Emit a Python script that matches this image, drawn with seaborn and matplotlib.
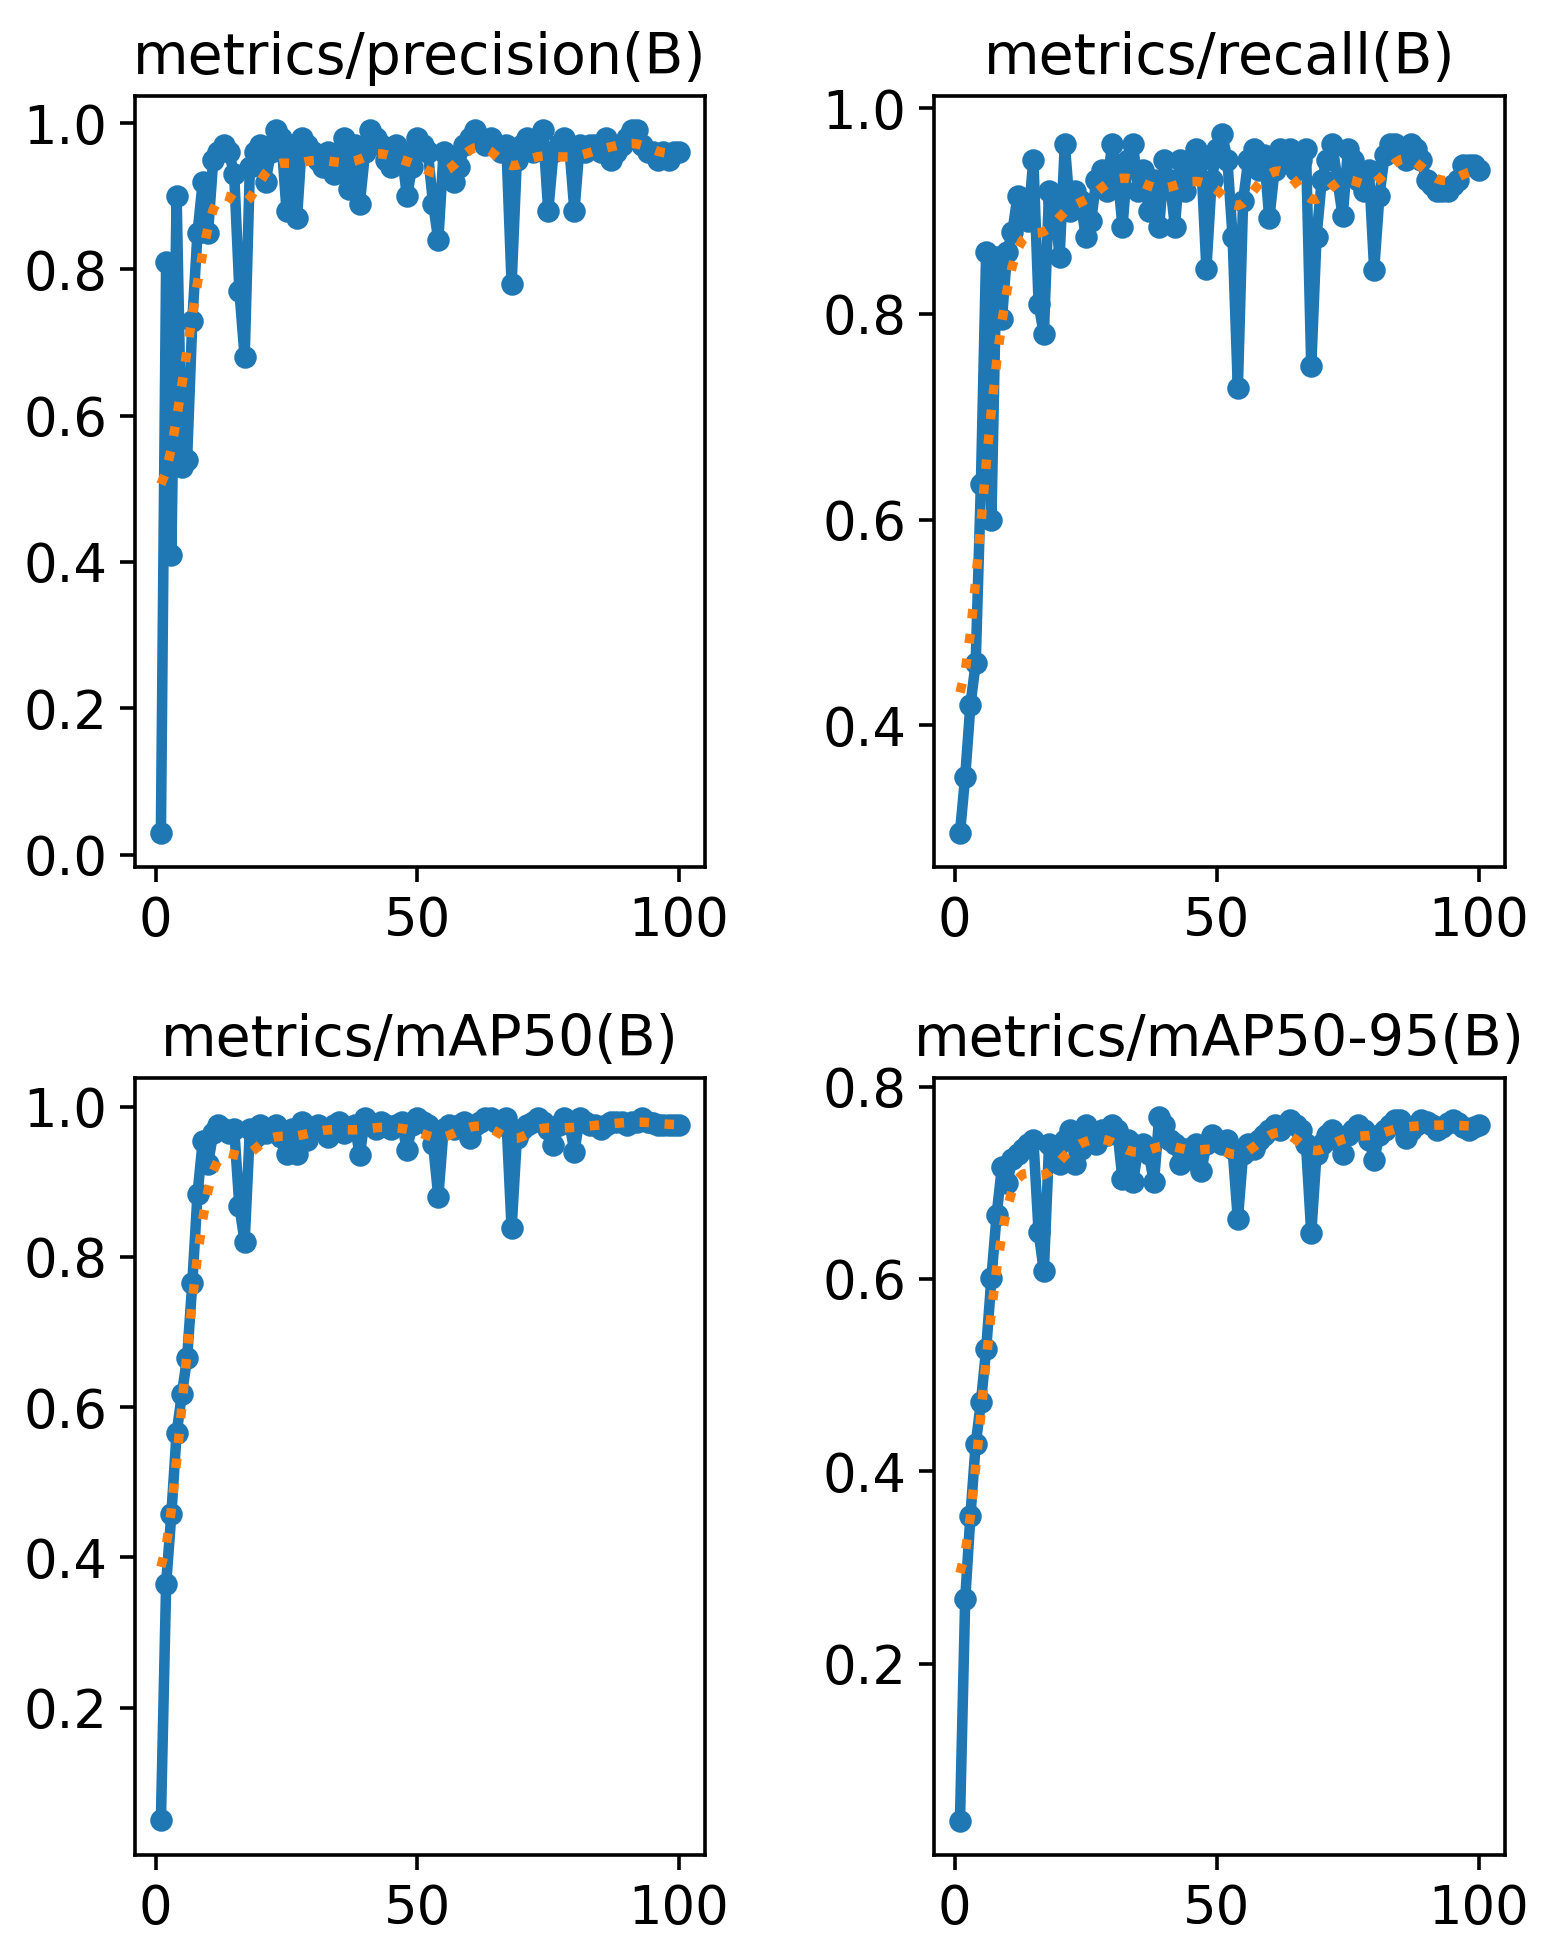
import numpy as np
import pandas as pd
import matplotlib
matplotlib.use("Agg")
import matplotlib.pyplot as plt
import seaborn as sns
from matplotlib.ticker import MultipleLocator

# ---------------- data ----------------
epochs = list(range(1, 101))

precision = [
    0.03, 0.81, 0.41, 0.90, 0.53, 0.54, 0.73, 0.85, 0.92, 0.85,
    0.95, 0.96, 0.97, 0.96, 0.93, 0.77, 0.68, 0.94, 0.96, 0.97,
    0.92, 0.96, 0.99, 0.98, 0.88, 0.97, 0.87, 0.98, 0.97, 0.96,
    0.95, 0.94, 0.96, 0.93, 0.94, 0.98, 0.91, 0.97, 0.89, 0.96,
    0.99, 0.98, 0.97, 0.95, 0.94, 0.97, 0.96, 0.90, 0.94, 0.98,
    0.97, 0.96, 0.89, 0.84, 0.96, 0.95, 0.92, 0.94, 0.97, 0.98,
    0.99, 0.98, 0.97, 0.98, 0.97, 0.96, 0.97, 0.78, 0.95, 0.97,
    0.98, 0.96, 0.97, 0.99, 0.88, 0.96, 0.97, 0.98, 0.97, 0.88,
    0.97, 0.96, 0.97, 0.97, 0.96, 0.98, 0.95, 0.96, 0.97, 0.98,
    0.99, 0.99, 0.97, 0.96, 0.96, 0.95, 0.96, 0.95, 0.96, 0.96,
]

recall = [
    0.295, 0.35, 0.42, 0.46, 0.635, 0.86, 0.60, 0.855, 0.795, 0.86,
    0.88, 0.915, 0.90, 0.89, 0.95, 0.81, 0.78, 0.92, 0.91, 0.855,
    0.965, 0.90, 0.92, 0.91, 0.875, 0.89, 0.93, 0.94, 0.92, 0.965,
    0.94, 0.885, 0.95, 0.965, 0.92, 0.94, 0.90, 0.93, 0.885, 0.95,
    0.93, 0.885, 0.95, 0.92, 0.94, 0.96, 0.95, 0.844, 0.93, 0.96,
    0.975, 0.95, 0.875, 0.728, 0.91, 0.95, 0.96, 0.94, 0.955, 0.893,
    0.94, 0.96, 0.95, 0.96, 0.94, 0.95, 0.96, 0.749, 0.875, 0.93,
    0.95, 0.965, 0.93, 0.895, 0.96, 0.95, 0.93, 0.92, 0.94, 0.843,
    0.915, 0.955, 0.965, 0.965, 0.96, 0.95, 0.965, 0.96, 0.95, 0.93,
    0.925, 0.92, 0.92, 0.92, 0.925, 0.93, 0.945, 0.945, 0.945, 0.94,
]

map50 = [
    0.05, 0.365, 0.458, 0.565, 0.617, 0.665, 0.765, 0.884, 0.954, 0.924,
    0.965, 0.975, 0.97, 0.965, 0.97, 0.867, 0.82, 0.97, 0.96, 0.975,
    0.965, 0.97, 0.975, 0.96, 0.937, 0.97, 0.937, 0.98, 0.955, 0.97,
    0.975, 0.97, 0.96, 0.975, 0.98, 0.965, 0.97, 0.975, 0.936, 0.985,
    0.975, 0.97, 0.98, 0.975, 0.97, 0.975, 0.98, 0.942, 0.975, 0.985,
    0.98, 0.975, 0.95, 0.88, 0.97, 0.975, 0.97, 0.975, 0.98, 0.958,
    0.975, 0.98, 0.985, 0.985, 0.98, 0.975, 0.985, 0.838, 0.958, 0.97,
    0.975, 0.98, 0.985, 0.98, 0.97, 0.949, 0.975, 0.985, 0.98, 0.94,
    0.985, 0.98, 0.975, 0.975, 0.97, 0.975, 0.98, 0.98, 0.98, 0.975,
    0.98, 0.98, 0.985, 0.98, 0.978, 0.976, 0.975, 0.976, 0.976, 0.975,
]

map50_95 = [
    0.036, 0.267, 0.354, 0.428, 0.472, 0.527, 0.601, 0.667, 0.716, 0.70,
    0.725, 0.73, 0.735, 0.74, 0.745, 0.649, 0.608, 0.74, 0.735, 0.72,
    0.745, 0.755, 0.72, 0.735, 0.76, 0.745, 0.74, 0.755, 0.75, 0.76,
    0.755, 0.704, 0.745, 0.701, 0.735, 0.74, 0.73, 0.701, 0.768, 0.76,
    0.745, 0.74, 0.72, 0.735, 0.725, 0.74, 0.712, 0.74, 0.75, 0.745,
    0.74, 0.745, 0.735, 0.662, 0.73, 0.74, 0.735, 0.745, 0.75, 0.755,
    0.76, 0.755, 0.76, 0.765, 0.76, 0.755, 0.74, 0.648, 0.73, 0.74,
    0.75, 0.755, 0.745, 0.73, 0.75, 0.755, 0.76, 0.755, 0.745, 0.724,
    0.75, 0.755, 0.76, 0.765, 0.765, 0.747, 0.755, 0.76, 0.765, 0.763,
    0.76, 0.755, 0.758, 0.762, 0.765, 0.762, 0.758, 0.755, 0.758, 0.76,
]

titles = ["metrics/precision(B)", "metrics/recall(B)",
          "metrics/mAP50(B)", "metrics/mAP50-95(B)"]
series = [precision, recall, map50, map50_95]
ylims = [(-0.017, 1.037), (0.262, 1.012), (0.004, 1.038), (0.001, 0.809)]
xticks = [0, 50, 100]


def gauss_smooth(y, sigma=3.0, truncate=4.0):
    """Gaussian smoothing (same as scipy gaussian_filter1d, mode='reflect')."""
    y = np.asarray(y, dtype=float)
    r = int(truncate * sigma + 0.5)
    k = np.exp(-0.5 * (np.arange(-r, r + 1) / sigma) ** 2)
    k /= k.sum()
    yp = np.pad(y, r, mode="symmetric")
    return np.convolve(yp, k, mode="valid")


# ---------------- figure ----------------
plt.rcParams.update({
    "font.family": ["DejaVu Sans"],
    "axes.linewidth": 1.3,
    "xtick.major.width": 1.3,
    "ytick.major.width": 1.3,
    "xtick.major.size": 5.5,
    "ytick.major.size": 5.5,
    "xtick.major.pad": 4.5,
    "ytick.major.pad": 4.5,
    "xtick.labelsize": 19,
    "ytick.labelsize": 19,
})

W, H = 1541, 1946
fig = plt.figure(figsize=(W / 200, H / 200), dpi=200)

# axes boxes in pixels: (left, top, right, bottom)
boxes = [(135, 96, 705, 867), (934, 96, 1505, 867),
         (135, 1078, 705, 1855), (934, 1078, 1505, 1855)]

for (l, t, r, b), title, y, yl in zip(boxes, titles, series, ylims):
    ax = fig.add_axes([l / W, 1 - b / H, (r - l) / W, (b - t) / H])
    df = pd.DataFrame({"epoch": epochs, "value": y, "smooth": gauss_smooth(y)})
    sns.lineplot(data=df, x="epoch", y="value", ax=ax, color="#1f77b4",
                 marker="o", markersize=6.5, markeredgewidth=1.6,
                 markeredgecolor="#1f77b4", linewidth=3.8)
    sns.lineplot(data=df, x="epoch", y="smooth", ax=ax, color="#ff7f0e",
                 linestyle=":", linewidth=3.4)
    ax.set_title(title, fontsize=20.5, pad=8)
    ax.set_xlabel("")
    ax.set_ylabel("")
    ax.set_xlim(-3.95, 104.95)
    ax.set_xticks(xticks)
    ax.yaxis.set_major_locator(MultipleLocator(0.2))
    ax.set_ylim(*yl)

fig.savefig("out.png", dpi=200)
